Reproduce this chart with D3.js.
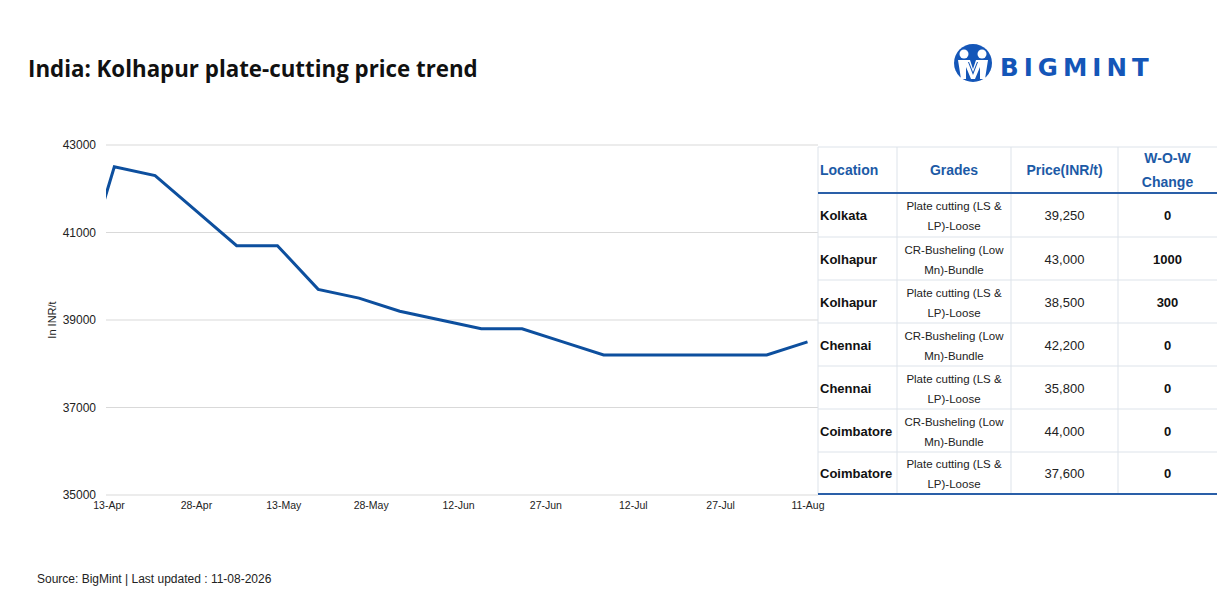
<!DOCTYPE html>
<html>
<head>
<meta charset="utf-8">
<script src="https://cdn.jsdelivr.net/npm/d3@7"></script>
<style>
  body { margin: 0; background: #fff; }
  svg { display: block; }
</style>
</head>
<body>
<svg id="chart" width="1217" height="613"></svg>
<script>
// weekly Kolhapur plate-cutting price (INR/t)
var dates = ["2026-04-07","2026-04-14","2026-04-21","2026-04-28","2026-05-05","2026-05-12",
  "2026-05-19","2026-05-26","2026-06-02","2026-06-09","2026-06-16","2026-06-23","2026-06-30",
  "2026-07-07","2026-07-14","2026-07-21","2026-07-28","2026-08-04","2026-08-11"];
var prices = [39400,42500,42300,41500,40700,40700,39700,39500,39200,39000,38800,38800,38500,
  38200,38200,38200,38200,38200,38500];
var tickDates = ["2026-04-13","2026-04-28","2026-05-13","2026-05-28","2026-06-12","2026-06-27",
  "2026-07-12","2026-07-27","2026-08-11"];
var yTicks = [35000,37000,39000,41000,43000];

// table
var tableHead = [["Location"],["Grades"],["Price(INR/t)"],["W-O-W","Change"]];
var locations = ["Kolkata","Kolhapur","Kolhapur","Chennai","Chennai","Coimbatore","Coimbatore"];
var grades = [["Plate cutting (LS &","LP)-Loose"],["CR-Busheling (Low","Mn)-Bundle"],
  ["Plate cutting (LS &","LP)-Loose"],["CR-Busheling (Low","Mn)-Bundle"],
  ["Plate cutting (LS &","LP)-Loose"],["CR-Busheling (Low","Mn)-Bundle"],
  ["Plate cutting (LS &","LP)-Loose"]];
var tablePrices = ["39,250","43,000","38,500","42,200","35,800","44,000","37,600"];
var wowChange = ["0","1000","300","0","0","0","0"];

var parse = d3.timeParse("%Y-%m-%d");
var fmt = d3.timeFormat("%-d-%b");
var svg = d3.select("#chart");
var font = "'Liberation Sans', Arial, sans-serif";
var blue = "#0d4f9e";

// title
svg.append("text").attr("x", 28).attr("y", 77)
  .style("font-family", "'Open Sans', sans-serif").style("font-weight", 700)
  .style("font-size", "22.3px").attr("fill", "#111")
  .text("India: Kolhapur plate-cutting price trend");

// logo
var logo = svg.append("g").attr("transform", "translate(973,63)");
logo.append("circle").attr("r", 19).attr("fill", "#1456b8");
logo.append("circle").attr("cx", -9).attr("cy", -9).attr("r", 4.5).attr("fill", "#fff");
logo.append("circle").attr("cx", 9).attr("cy", -9).attr("r", 4.5).attr("fill", "#fff");
logo.append("path").attr("fill", "#fff")
  .attr("d", "M-15,-3 L-3,-3 L0,6 L3,-3 L15,-3 L12,16 L7,16 L7,4 L2,16 L-2,16 L-7,4 L-7,16 L-12,16 Z");
logo.append("path").attr("fill", "#1456b8")
  .attr("d", "M-5,-1 L0,12 L5,-1 L4,-1 L0,9 L-4,-1 Z");
svg.append("text").attr("x", 1000).attr("y", 76)
  .style("font-family", "'DejaVu Sans', sans-serif").style("font-weight", 700)
  .style("font-size", "24.5px").style("letter-spacing", "5px").attr("fill", "#1456b8")
  .text("BIGMINT");

// scales
var x = d3.scaleTime().domain([parse("2026-04-13"), parse("2026-08-11")]).range([108.5, 807.5]);
var y = d3.scaleLinear().domain([35000, 43000]).range([495, 145]);

svg.append("defs").append("clipPath").attr("id", "plotclip")
  .append("rect").attr("x", 106).attr("y", 130).attr("width", 712).attr("height", 380);

// grid
svg.append("g").selectAll("line").data(yTicks).join("line")
  .attr("x1", 106).attr("x2", 818)
  .attr("y1", function(d) { return y(d); }).attr("y2", function(d) { return y(d); })
  .attr("stroke", "#d9d9d9").attr("stroke-width", 1);

// y axis labels
var yAxis = svg.append("g").attr("transform", "translate(100,0)")
  .call(d3.axisLeft(y).tickValues(yTicks).tickSize(0).tickPadding(4).tickFormat(d3.format("d")));
yAxis.select(".domain").remove();
yAxis.selectAll("text").style("font-family", font).style("font-size", "12px").attr("fill", "#222");

// x axis labels
var xAxis = svg.append("g").attr("transform", "translate(0,496)")
  .call(d3.axisBottom(x).tickValues(tickDates.map(parse)).tickSize(0).tickPadding(6).tickFormat(fmt));
xAxis.select(".domain").remove();
xAxis.selectAll("text").style("font-family", font).style("font-size", "10.5px").attr("fill", "#222");

svg.append("text").attr("transform", "translate(56,320) rotate(-90)")
  .attr("text-anchor", "middle").style("font-family", font).style("font-size", "11px")
  .attr("fill", "#222").text("In INR/t");

// line
var series = dates.map(function(d, i) { return { date: parse(d), value: prices[i] }; });
var line = d3.line().x(function(d) { return x(d.date); }).y(function(d) { return y(d.value); });
svg.append("path").datum(series).attr("clip-path", "url(#plotclip)")
  .attr("d", line).attr("fill", "none").attr("stroke", blue)
  .attr("stroke-width", 3).attr("stroke-linejoin", "miter");

// table
var colX = [818, 897, 1011, 1118, 1217];
var rowY = [147, 193, 237, 280, 323, 366, 409, 452, 494];
var tbl = svg.append("g");
var hdrBlue = "#1c5aa6";

tbl.append("rect").attr("x", 818).attr("y", 147).attr("width", 399).attr("height", 347).attr("fill", "#fff");
tbl.selectAll(".hline").data(rowY.slice(2, 8)).join("line")
  .attr("x1", 818).attr("x2", 1217).attr("y1", function(d) { return d; }).attr("y2", function(d) { return d; })
  .attr("stroke", "#dde3ea").attr("stroke-width", 1);
tbl.append("line").attr("x1", 818).attr("x2", 1217).attr("y1", 147).attr("y2", 147)
  .attr("stroke", "#dde3ea");
tbl.selectAll(".vline").data(colX.slice(0, 4)).join("line")
  .attr("x1", function(d) { return d; }).attr("x2", function(d) { return d; })
  .attr("y1", 147).attr("y2", 494).attr("stroke", "#dde3ea").attr("stroke-width", 1);
tbl.append("line").attr("x1", 818).attr("x2", 1217).attr("y1", 193).attr("y2", 193)
  .attr("stroke", "#2a5fa8").attr("stroke-width", 1.8);
tbl.append("line").attr("x1", 818).attr("x2", 1217).attr("y1", 494).attr("y2", 494)
  .attr("stroke", "#2a5fa8").attr("stroke-width", 1.8);

function colMid(i) { return (colX[i] + colX[i + 1]) / 2; }

tableHead.forEach(function(lines, i) {
  var t = tbl.append("text").attr("x", i === 0 ? 820 : colMid(i))
    .attr("text-anchor", i === 0 ? "start" : "middle")
    .style("font-family", font).style("font-weight", 700).style("font-size", "14px")
    .attr("fill", hdrBlue);
  var y0 = lines.length === 1 ? 175 : 163;
  lines.forEach(function(s, k) {
    t.append("tspan").attr("x", i === 0 ? 820 : colMid(i)).attr("y", y0 + k * 24).text(s);
  });
});

locations.forEach(function(loc, r) {
  var mid = (rowY[r + 1] + rowY[r + 2]) / 2;
  tbl.append("text").attr("x", 820).attr("y", mid + 5)
    .style("font-family", font).style("font-weight", 700).style("font-size", "13px")
    .attr("fill", "#111").text(loc);
  var g = tbl.append("text").attr("text-anchor", "middle")
    .style("font-family", font).style("font-size", "11.5px").attr("fill", "#222");
  grades[r].forEach(function(s, k) {
    g.append("tspan").attr("x", colMid(1)).attr("y", mid - 5 + k * 20).text(s);
  });
  tbl.append("text").attr("x", colMid(2)).attr("y", mid + 5).attr("text-anchor", "middle")
    .style("font-family", font).style("font-size", "13px").attr("fill", "#222").text(tablePrices[r]);
  tbl.append("text").attr("x", colMid(3)).attr("y", mid + 5).attr("text-anchor", "middle")
    .style("font-family", font).style("font-weight", 700).style("font-size", "13px")
    .attr("fill", "#111").text(wowChange[r]);
});

// source
svg.append("text").attr("x", 37).attr("y", 583)
  .style("font-family", font).style("font-size", "12px").attr("fill", "#222")
  .text("Source: BigMint | Last updated : 11-08-2026");
</script>
</body>
</html>
